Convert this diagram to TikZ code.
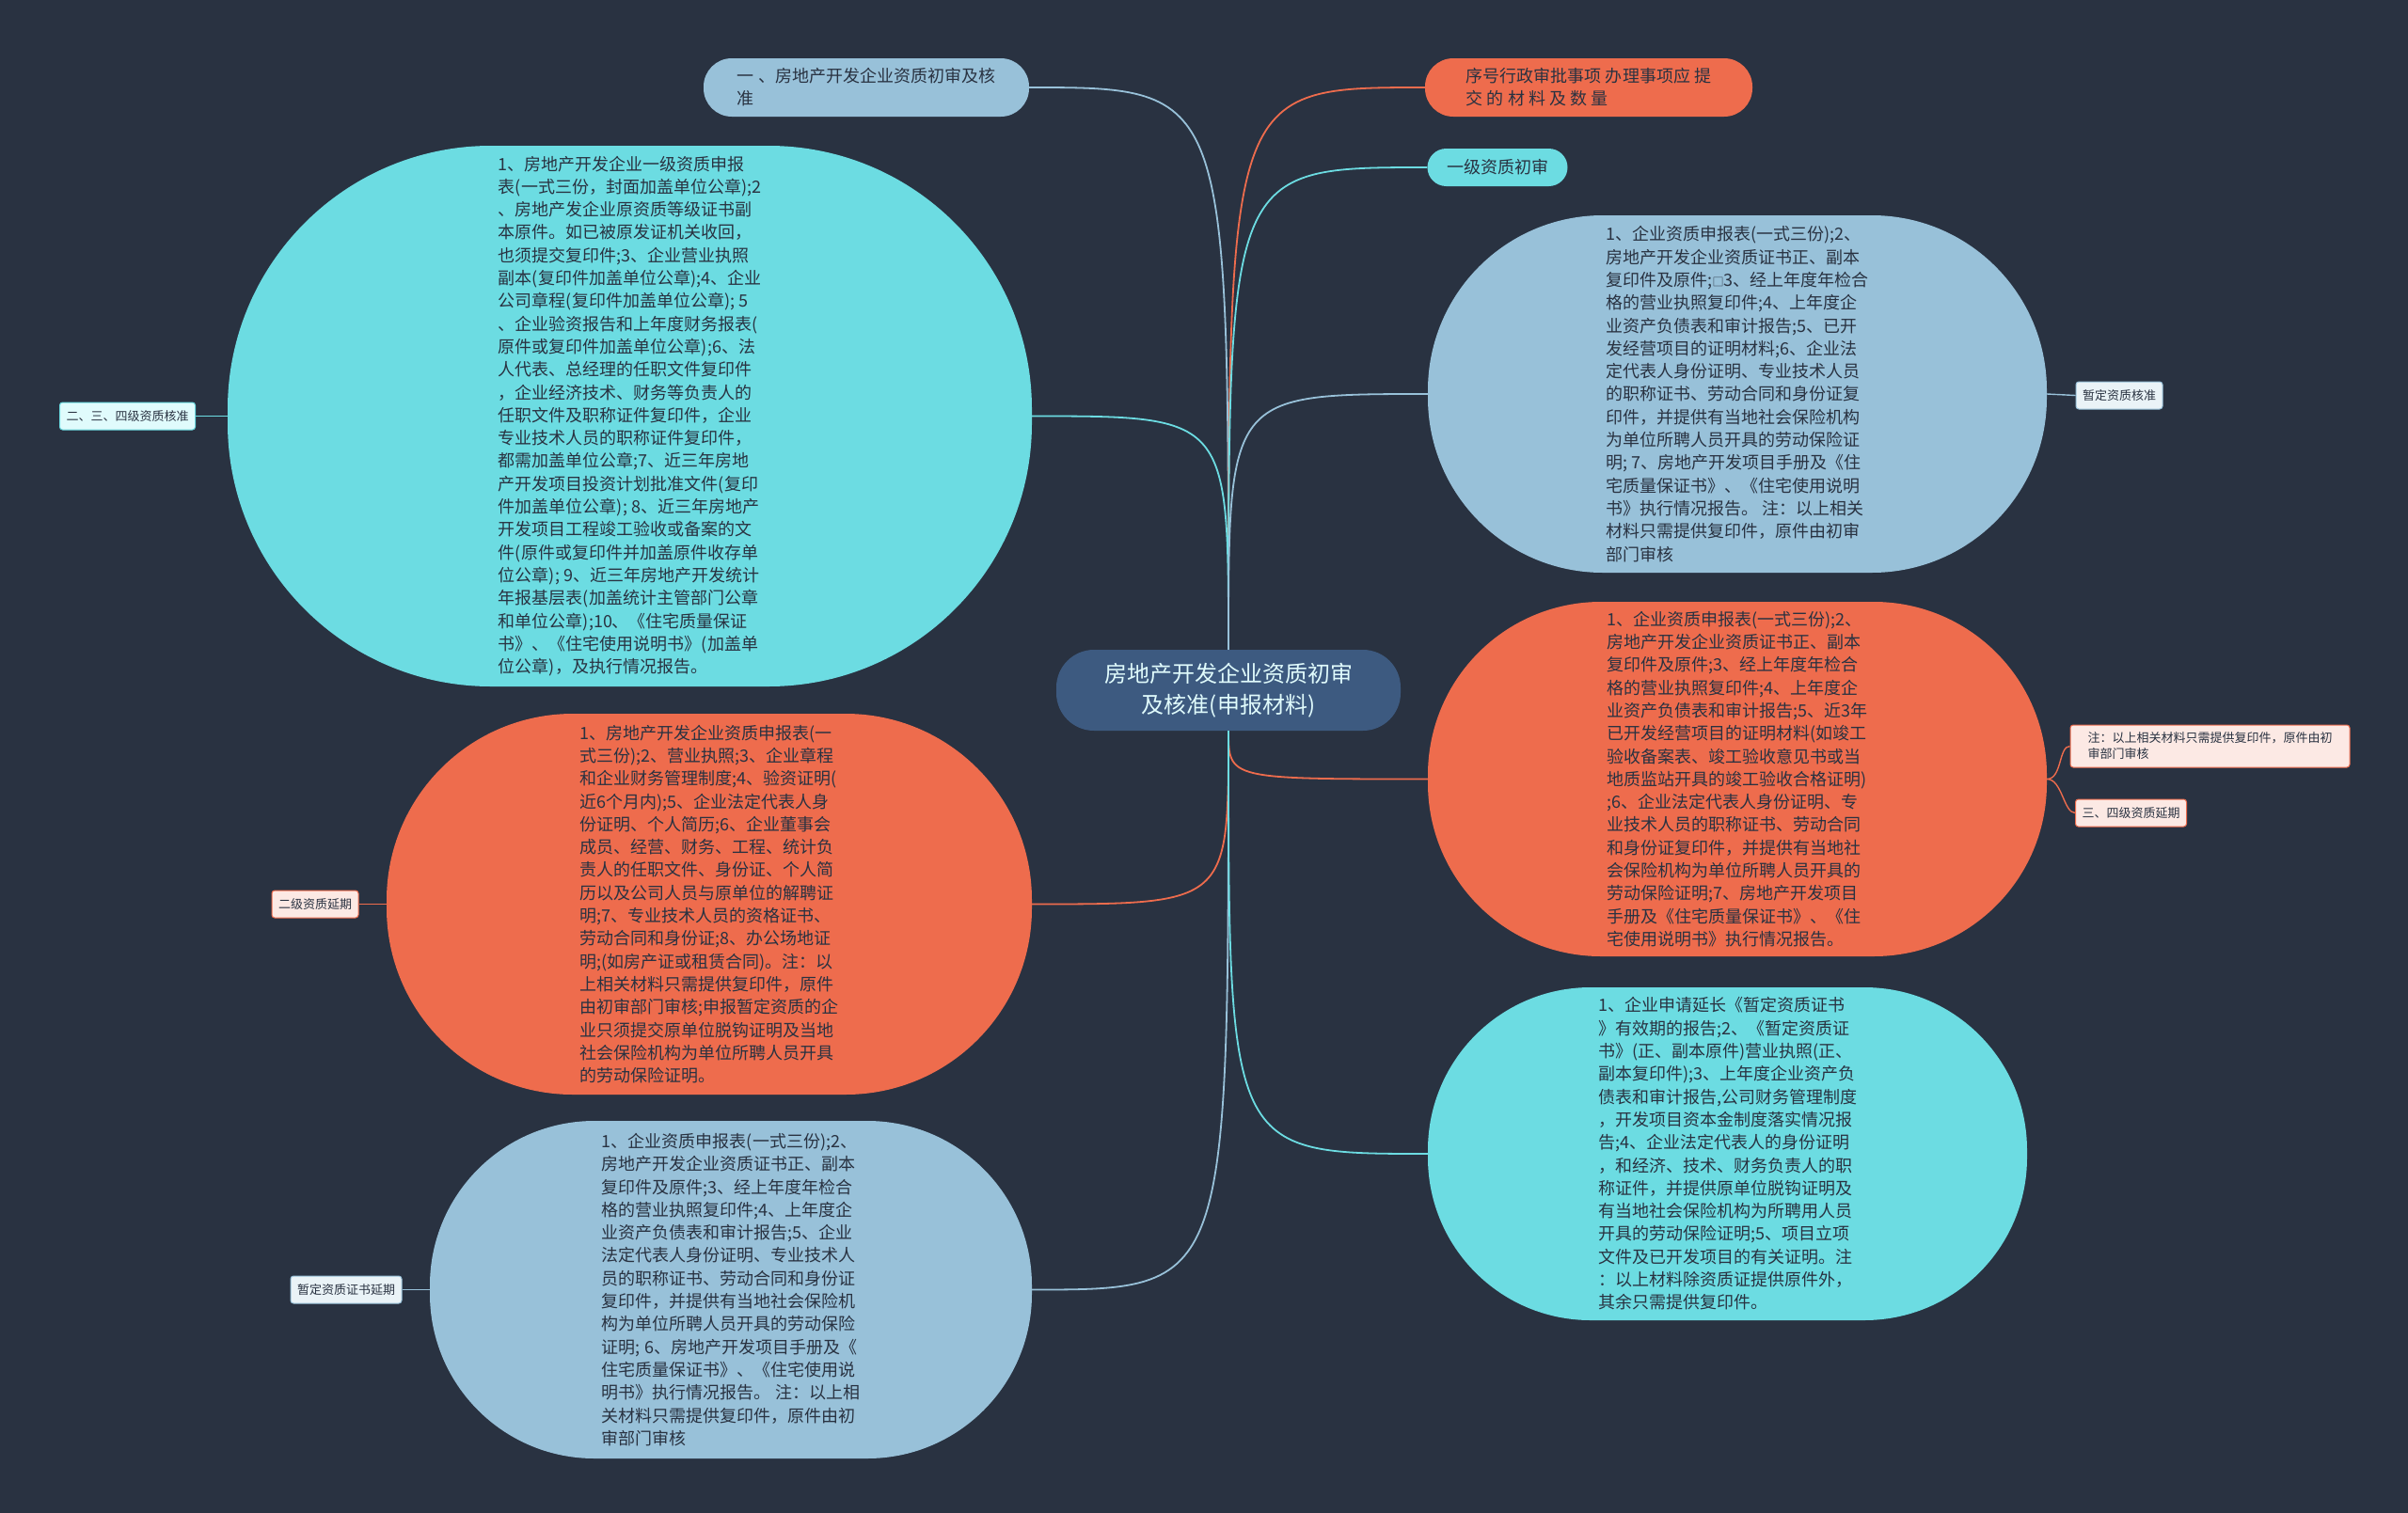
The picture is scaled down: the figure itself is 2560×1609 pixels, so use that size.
\documentclass[tikz,border=0pt]{standalone}
\usepackage{fontspec}
\setmainfont{Noto Sans CJK SC}
\usetikzlibrary{calc}
\definecolor{bgdark}{HTML}{293241}
\definecolor{navy}{HTML}{3D5A80}
\definecolor{skyblue}{HTML}{98C1D9}
\definecolor{aqua}{HTML}{6CDCE2}
\definecolor{coral}{HTML}{EE6C4D}
\definecolor{ink}{HTML}{293241}
\definecolor{pale}{HTML}{E0FBFC}
\tikzstyle{root} = [rectangle, rounded corners=40pt, fill=navy, text=pale, align=center, font=\fontsize{24pt}{33pt}\selectfont, minimum width=366pt, minimum height=86pt]
\tikzstyle{bubble} = [rectangle, text=ink, align=left, font=\fontsize{18pt}{24.3pt}\selectfont]
\tikzstyle{pill} = [rectangle, rounded corners=30pt, text=ink, align=left, font=\fontsize{18pt}{24pt}\selectfont, minimum height=62pt]
\tikzstyle{tag} = [rectangle, rounded corners=3pt, draw, line width=1pt, text=ink, align=left, font=\fontsize{13pt}{17pt}\selectfont, inner xsep=7pt, inner ysep=3pt, minimum height=29pt]
\tikzstyle{branch} = [line width=1.8pt]
\tikzstyle{twig} = [line width=1.4pt]

\begin{document}
\begin{tikzpicture}[x=1pt, y=-1pt]

\fill [bgdark] (0,0) rectangle (2560,1609);

% centre and top items
\node (hub) [root] at (1306,734) {房地产开发企业资质初审\\及核准(申报材料)};
\node (first) [pill, fill=skyblue, minimum width=346pt] at (921,93) {一 、房地产开发企业资质初审及核\\准};
\node (items) [pill, fill=coral, minimum width=348pt] at (1689,93) {序号行政审批事项 办理事项应 提\\交 的 材 料 及 数 量};
\node (gradeone) [pill, fill=aqua, minimum width=149pt, minimum height=40pt, rounded corners=20pt, align=center] at (1592,178) {一级资质初审};

% left bubbles
\node (approve) [bubble, fill=aqua, minimum width=855pt, minimum height=575pt, rounded corners=280pt] at (669.5,442.5) {%
1、房地产开发企业一级资质申报\\%
表(一式三份，封面加盖单位公章);2\\%
、房地产发企业原资质等级证书副\\%
本原件。如已被原发证机关收回，\\%
也须提交复印件;3、企业营业执照\\%
副本(复印件加盖单位公章);4、企业\\%
公司章程(复印件加盖单位公章); 5\\%
、企业验资报告和上年度财务报表(\\%
原件或复印件加盖单位公章);6、法\\%
人代表、总经理的任职文件复印件\\%
，企业经济技术、财务等负责人的\\%
任职文件及职称证件复印件，企业\\%
专业技术人员的职称证件复印件，\\%
都需加盖单位公章;7、近三年房地\\%
产开发项目投资计划批准文件(复印\\%
件加盖单位公章); 8、近三年房地产\\%
开发项目工程竣工验收或备案的文\\%
件(原件或复印件并加盖原件收存单\\%
位公章); 9、近三年房地产开发统计\\%
年报基层表(加盖统计主管部门公章\\%
和单位公章);10、《住宅质量保证\\%
书》、《住宅使用说明书》(加盖单\\%
位公章)，及执行情况报告。};

\node (extend) [bubble, fill=coral, minimum width=686pt, minimum height=405pt, rounded corners=198pt] at (754,961.5) {%
1、房地产开发企业资质申报表(一\\%
式三份);2、营业执照;3、企业章程\\%
和企业财务管理制度;4、验资证明(\\%
近6个月内);5、企业法定代表人身\\%
份证明、个人简历;6、企业董事会\\%
成员、经营、财务、工程、统计负\\%
责人的任职文件、身份证、个人简\\%
历以及公司人员与原单位的解聘证\\%
明;7、专业技术人员的资格证书、\\%
劳动合同和身份证;8、办公场地证\\%
明;(如房产证或租赁合同)。注：以\\%
上相关材料只需提供复印件，原件\\%
由初审部门审核;申报暂定资质的企\\%
业只须提交原单位脱钩证明及当地\\%
社会保险机构为单位所聘人员开具\\%
的劳动保险证明。};

\node (renew) [bubble, fill=skyblue, minimum width=640pt, minimum height=359pt, rounded corners=175pt] at (777,1371.5) {%
1、企业资质申报表(一式三份);2、\\%
房地产开发企业资质证书正、副本\\%
复印件及原件;3、经上年度年检合\\%
格的营业执照复印件;4、上年度企\\%
业资产负债表和审计报告;5、企业\\%
法定代表人身份证明、专业技术人\\%
员的职称证书、劳动合同和身份证\\%
复印件，并提供有当地社会保险机\\%
构为单位所聘人员开具的劳动保险\\%
证明; 6、房地产开发项目手册及《\\%
住宅质量保证书》、《住宅使用说\\%
明书》执行情况报告。 注：以上相\\%
关材料只需提供复印件，原件由初\\%
审部门审核};

% right bubbles
\node (interim) [bubble, fill=skyblue, minimum width=658pt, minimum height=380pt, rounded corners=186pt] at (1847,419) {%
1、企业资质申报表(一式三份);2、\\%
房地产开发企业资质证书正、副本\\%
复印件及原件;{\fontsize{12pt}{12pt}\selectfont□}3、经上年度年检合\\%
格的营业执照复印件;4、上年度企\\%
业资产负债表和审计报告;5、已开\\%
发经营项目的证明材料;6、企业法\\%
定代表人身份证明、专业技术人员\\%
的职称证书、劳动合同和身份证复\\%
印件，并提供有当地社会保险机构\\%
为单位所聘人员开具的劳动保险证\\%
明; 7、房地产开发项目手册及《住\\%
宅质量保证书》、《住宅使用说明\\%
书》执行情况报告。 注：以上相关\\%
材料只需提供复印件，原件由初审\\%
部门审核};

\node (lower) [bubble, fill=coral, minimum width=658pt, minimum height=377pt, rounded corners=184pt] at (1847,828.5) {%
1、企业资质申报表(一式三份);2、\\%
房地产开发企业资质证书正、副本\\%
复印件及原件;3、经上年度年检合\\%
格的营业执照复印件;4、上年度企\\%
业资产负债表和审计报告;5、近3年\\%
已开发经营项目的证明材料(如竣工\\%
验收备案表、竣工验收意见书或当\\%
地质监站开具的竣工验收合格证明)\\%
;6、企业法定代表人身份证明、专\\%
业技术人员的职称证书、劳动合同\\%
和身份证复印件，并提供有当地社\\%
会保险机构为单位所聘人员开具的\\%
劳动保险证明;7、房地产开发项目\\%
手册及《住宅质量保证书》、《住\\%
宅使用说明书》执行情况报告。};

\node (prolong) [bubble, fill=aqua, minimum width=637pt, minimum height=354pt, rounded corners=173pt] at (1836.5,1227) {%
1、企业申请延长《暂定资质证书\\%
》有效期的报告;2、《暂定资质证\\%
书》(正、副本原件)营业执照(正、\\%
副本复印件);3、上年度企业资产负\\%
债表和审计报告,公司财务管理制度\\%
，开发项目资本金制度落实情况报\\%
告;4、企业法定代表人的身份证明\\%
，和经济、技术、财务负责人的职\\%
称证件，并提供原单位脱钩证明及\\%
有当地社会保险机构为所聘用人员\\%
开具的劳动保险证明;5、项目立项\\%
文件及已开发项目的有关证明。注\\%
：以上材料除资质证提供原件外，\\%
其余只需提供复印件。};

% tags
\node (tagapprove) [tag, draw=aqua, fill=pale] at (135.5,442.5) {二、三、四级资质核准};
\node (tagextend) [tag, draw=coral, fill=coral!15] at (335,961.5) {二级资质延期};
\node (tagrenew) [tag, draw=skyblue, fill=skyblue!20] at (368,1371.5) {暂定资质证书延期};
\node (taginterim) [tag, draw=skyblue, fill=skyblue!20] at (2253,420.5) {暂定资质核准};
\node (tagnote) [tag, draw=coral, fill=coral!15, minimum width=297pt, minimum height=45pt] at (2349.5,793.5) {注：以上相关材料只需提供复印件，原件由初\\审部门审核};
\node (taglower) [tag, draw=coral, fill=coral!15] at (2265.5,864.5) {三、四级资质延期};

% connections
\draw [branch, skyblue] (hub.north) .. controls (hub.north |- first.east) .. (first.east);
\draw [branch, coral] (hub.north) .. controls (hub.north |- items.west) .. (items.west);
\draw [branch, aqua] (hub.north) .. controls (hub.north |- gradeone.west) .. (gradeone.west);
\draw [branch, aqua] (hub.north) .. controls (hub.north |- approve.east) .. (approve.east);
\draw [branch, skyblue] (hub.north) .. controls (hub.north |- interim.west) .. (interim.west);
\draw [branch, coral] (hub.south) .. controls (hub.south |- extend.east) .. (extend.east);
\draw [branch, skyblue] (hub.south) .. controls (hub.south |- renew.east) .. (renew.east);
\draw [branch, coral] (hub.south) .. controls (hub.south |- lower.west) .. (lower.west);
\draw [branch, aqua] (hub.south) .. controls (hub.south |- prolong.west) .. (prolong.west);

\draw [twig, aqua] (approve.west) -- (tagapprove.east);
\draw [twig, coral] (extend.west) -- (tagextend.east);
\draw [twig, skyblue] (renew.west) -- (tagrenew.east);
\draw [twig, skyblue] (interim.east) -- (taginterim.west);
\draw [twig, coral] (lower.east) .. controls +(16,0) and +(-12,0) .. (tagnote.west);
\draw [twig, coral] (lower.east) .. controls +(16,0) and +(-12,0) .. (taglower.west);

\end{tikzpicture}
\end{document}
